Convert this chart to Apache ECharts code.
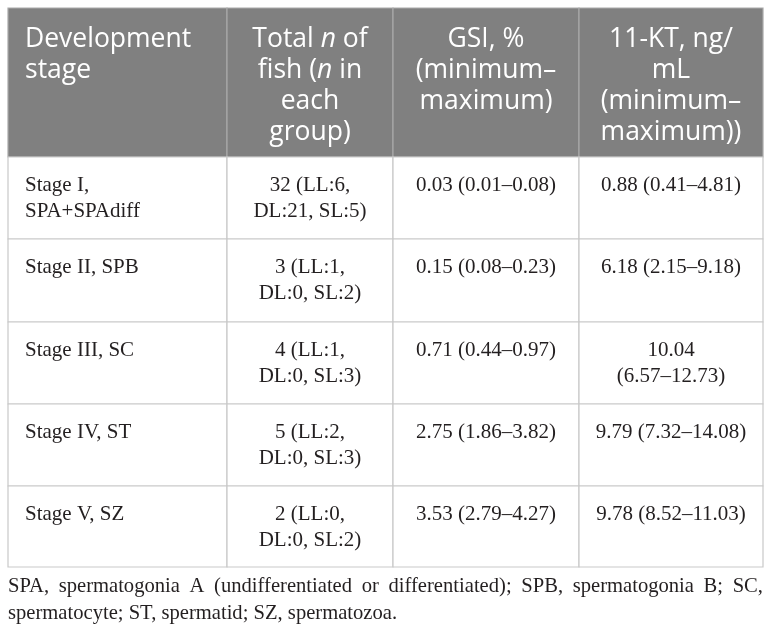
<!DOCTYPE html>
<html>
<head>
<meta charset="utf-8">
<script src="https://cdn.jsdelivr.net/npm/echarts@6/dist/echarts.min.js"></script>
<style>html,body{margin:0;padding:0;background:#fff;}#chart{width:772px;height:634px;}</style>
</head>
<body>
<div id="chart"></div>
<script>
// ---- table content ----
const headers = [
  'Development\nstage',
  'Total {i|n} of\nfish ({i|n} in\neach\ngroup)',
  'GSI, %\n(minimum–\nmaximum)',
  '11-KT, ng/\nmL\n(minimum–\nmaximum))'
];
const stages = ['Stage I,\nSPA+SPAdiff', 'Stage II, SPB', 'Stage III, SC', 'Stage IV, ST', 'Stage V, SZ'];
const fishCounts = ['32 (LL:6,\nDL:21, SL:5)', '3 (LL:1,\nDL:0, SL:2)', '4 (LL:1,\nDL:0, SL:3)', '5 (LL:2,\nDL:0, SL:3)', '2 (LL:0,\nDL:0, SL:2)'];
const gsiValues = ['0.03 (0.01–0.08)', '0.15 (0.08–0.23)', '0.71 (0.44–0.97)', '2.75 (1.86–3.82)', '3.53 (2.79–4.27)'];
const ktValues = ['0.88 (0.41–4.81)', '6.18 (2.15–9.18)', '10.04\n(6.57–12.73)', '9.79 (7.32–14.08)', '9.78 (8.52–11.03)'];
const footnoteLines = [
  'SPA, spermatogonia A (undifferentiated or differentiated); SPB, spermatogonia B; SC,',
  'spermatocyte; ST, spermatid; SZ, spermatozoa.'
];

// ---- layout (not data) ----
const colWidths = [219, 166, 186, 184];
const rowHeights = [149, 82, 83, 82, 82, 81];
const colAlign = ['left', 'center', 'center', 'center'];
const headFont = '"Open Sans", sans-serif';
const bodyFont = '"Liberation Serif", "Times New Roman", serif';
const footFont = '20.6px "Liberation Serif", "Times New Roman", serif';

const colEdges = [0]; colWidths.forEach(w => colEdges.push(colEdges[colEdges.length - 1] + w));
const rowEdges = [0]; rowHeights.forEach(h => rowEdges.push(rowEdges[rowEdges.length - 1] + h));
const totalW = colEdges[colEdges.length - 1];
const totalH = rowEdges[rowEdges.length - 1];

const bodyCols = [stages, fishCounts, gsiValues, ktValues];
const cells = [];
headers.forEach((t, c) => cells.push({ r: 0, c: c, text: t }));
stages.forEach((_, r) => bodyCols.forEach((col, c) => cells.push({ r: r + 1, c: c, text: col[r] })));
const seriesData = cells.map(o => [colEdges[o.c], colEdges[o.c + 1], rowEdges[o.r], rowEdges[o.r + 1]]);

function renderItem(params, api) {
  const cell = cells[params.dataIndex];
  const p0 = api.coord([api.value(0), api.value(2)]);
  const p1 = api.coord([api.value(1), api.value(3)]);
  const isHead = cell.r === 0;
  const align = colAlign[cell.c];
  const tx = align === 'left' ? p0[0] + 17 : (p0[0] + p1[0]) / 2;
  const textStyle = isHead ? {
    text: cell.text, x: tx, y: p0[1] + 16, align: align, verticalAlign: 'top',
    fontFamily: headFont, fontSize: 26.5, lineHeight: 31, fill: '#ffffff',
    rich: { i: { fontFamily: headFont, fontSize: 26.5, fontStyle: 'italic', lineHeight: 31, fill: '#ffffff' } }
  } : {
    text: cell.text, x: tx, y: p0[1] + 15, align: align, verticalAlign: 'top',
    fontFamily: bodyFont, fontSize: 21, lineHeight: 26, fill: '#231f20'
  };
  return {
    type: 'group',
    children: [
      { type: 'rect', shape: { x: p0[0], y: p0[1], width: p1[0] - p0[0], height: p1[1] - p0[1] },
        style: { fill: isHead ? '#808080' : '#ffffff', stroke: isHead ? '#a9a9a9' : '#c9c9c9', lineWidth: 1.2 } },
      { type: 'text', style: textStyle }
    ]
  };
}

// footnote with justified first line
const ctx = document.createElement('canvas').getContext('2d');
ctx.font = footFont;
const footLeft = 8, footRight = 8 + totalW;
const footGraphics = [];
footnoteLines.forEach((line, li) => {
  const y = 587 + li * 27;
  if (li < footnoteLines.length - 1) {
    const words = line.split(' ');
    const widths = words.map(w => ctx.measureText(w).width);
    const sum = widths.reduce((a, b) => a + b, 0);
    const gap = (footRight - footLeft - sum) / (words.length - 1);
    let x = footLeft;
    words.forEach((w, i) => {
      footGraphics.push({ type: 'text', x: x, y: y, style: { text: w, font: footFont, fill: '#231f20', verticalAlign: 'middle' } });
      x += widths[i] + gap;
    });
  } else {
    footGraphics.push({ type: 'text', x: footLeft, y: y, style: { text: line, font: footFont, fill: '#231f20', verticalAlign: 'middle' } });
  }
});

const chart = echarts.init(document.getElementById('chart'), null, { renderer: 'canvas' });
chart.setOption({
  animation: false,
  backgroundColor: '#ffffff',
  grid: { left: 8, top: 8, width: totalW, height: totalH },
  xAxis: { type: 'value', min: 0, max: totalW, show: false },
  yAxis: { type: 'value', min: 0, max: totalH, inverse: true, show: false },
  series: [{ type: 'custom', renderItem: renderItem, data: seriesData, silent: true, clip: false }],
  graphic: footGraphics
});
</script>
</body>
</html>
